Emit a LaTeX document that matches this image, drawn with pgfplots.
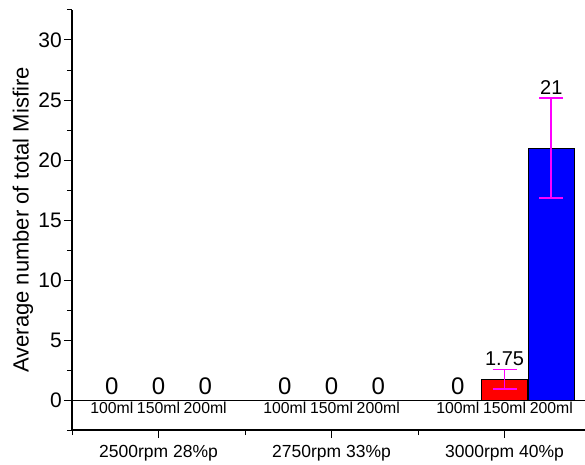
\documentclass[border=0pt]{standalone}
\usepackage{fontspec}
\setmainfont{Liberation Sans}
\usepackage{pgfplots}
\usepackage{pgfplotstable}
\pgfplotsset{compat=1.18}

% x y err  (x = speed/load group, y = mean misfire count, err = spread)
\pgfplotstableread{
x y err
0 0 0
1 0 0
2 0 0
}\mlA
\pgfplotstableread{
x y err
0 0 0
1 0 0
2 1.75 0.8
}\mlB
\pgfplotstableread{
x y err
0 0 0
1 0 0
2 21 4.15
}\mlC

\definecolor{barred}{RGB}{255,0,0}
\definecolor{barblue}{RGB}{0,0,255}
\definecolor{errmag}{RGB}{255,0,255}

\begin{document}
\begin{tikzpicture}
\useasboundingbox (-72pt,-34pt) rectangle (513pt,430pt);
\begin{axis}[
  scale only axis,
  width=513pt, height=420pt,
  xmin=-0.5, xmax=2.465,
  ymin=-2.5, ymax=32.5,
  axis x line=bottom, axis y line=left,
  axis line style={-, line width=1.2pt},
  tick align=outside,
  major tick length=8pt, minor tick length=5pt,
  every tick/.style={black, line width=1pt},
  ytick={0,5,...,30},
  minor ytick={-2.5,2.5,...,32.5},
  xtick={0,1,2},
  minor xtick={-0.5,0.5,1.5},
  xticklabels={2500rpm 28\%p, 2750rpm 33\%p, 3000rpm 40\%p},
  /pgf/number format/assume math mode=true,
  yticklabel style={font=\fontsize{21}{23}\selectfont, inner sep=2pt},
  xticklabel style={font=\fontsize{17.5}{20}\selectfont, yshift=-4pt},
  ylabel={Average number of total Misfire},
  ylabel style={at={([xshift=-49pt]axis description cs:0,0.5)}, anchor=center,
    font=\fontsize{22}{24}\selectfont},
  clip=false,
]
% zero baseline
\draw[black, line width=1pt] (axis cs:-0.5,0) -- (axis cs:2.465,0);

% bars: 100 ml, 150 ml, 200 ml
\addplot[ybar, bar width=0.266, fill=black, draw=black, line width=0.8pt]
  table[x expr=\thisrow{x}-0.27, y=y]{\mlA};
\addplot[ybar, bar width=0.266, fill=barred, draw=black, line width=0.8pt]
  table[x=x, y=y]{\mlB};
\addplot[ybar, bar width=0.266, fill=barblue, draw=black, line width=0.8pt]
  table[x expr=\thisrow{x}+0.27, y=y]{\mlC};

% error bars where a spread exists: stem plus a wide flat cap
\pgfplotsset{errstyle/.style={draw=none, mark=none,
  skip coords between index={0}{2},
  error bars/.cd, y dir=both, y explicit,
  draw error bar/.code 2 args={%
    \draw[errmag, line width=1.8pt] ##1 -- ##2;
    \draw[errmag, line width=1.8pt] ##2 ++(-12pt,0) -- ++(24pt,0);
  }}}
\addplot[errstyle] table[x=x, y=y, y error=err]{\mlB};
\addplot[errstyle] table[x expr=\thisrow{x}+0.27, y=y, y error=err]{\mlC};

% value labels: zeros are set larger than the non-zero values
\pgfplotsset{
  vallabel/.style={draw=none, mark=none, nodes near coords,
    point meta=explicit symbolic,
    every node near coord/.append style={font=\fontsize{20}{22}\selectfont,
      anchor=south, inner sep=1pt, yshift=3pt}},
  zerolabel/.style={draw=none, mark=none, nodes near coords,
    point meta=explicit symbolic,
    every node near coord/.append style={font=\fontsize{24}{26}\selectfont,
      anchor=south, inner sep=1pt, yshift=4pt}}}
\addplot[zerolabel] table[x expr=\thisrow{x}-0.27, y=y, meta=y]{\mlA};
\addplot[zerolabel, skip coords between index={2}{3}] table[x=x, y=y, meta=y]{\mlB};
\addplot[zerolabel, skip coords between index={2}{3}] table[x expr=\thisrow{x}+0.27, y=y, meta=y]{\mlC};
\addplot[vallabel, skip coords between index={0}{2}] table[x=x, y expr=\thisrow{y}+\thisrow{err}, meta=y]{\mlB};
\addplot[vallabel, skip coords between index={0}{2}] table[x expr=\thisrow{x}+0.27, y expr=\thisrow{y}+\thisrow{err}, meta=y]{\mlC};

% volume labels under each group
\pgfplotsinvokeforeach{0,1,2}{
  \node[anchor=north, inner sep=1pt, yshift=-1pt, font=\fontsize{15.8}{17}\selectfont]
    at (axis cs:#1-0.27,0) {100ml};
  \node[anchor=north, inner sep=1pt, yshift=-1pt, font=\fontsize{15.8}{17}\selectfont]
    at (axis cs:#1,0) {150ml};
  \node[anchor=north, inner sep=1pt, yshift=-1pt, font=\fontsize{15.8}{17}\selectfont]
    at (axis cs:#1+0.27,0) {200ml};
}
\end{axis}
\end{tikzpicture}
\end{document}
